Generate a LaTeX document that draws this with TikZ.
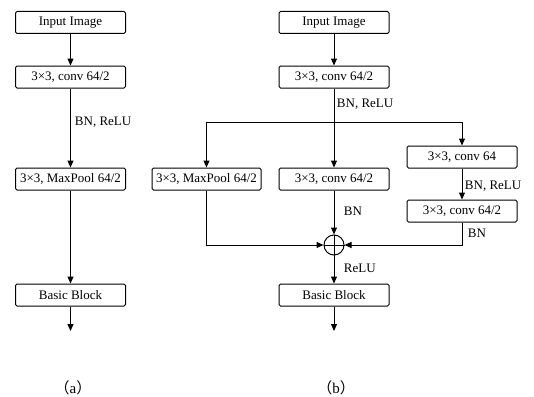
\documentclass[tikz,border=0pt]{standalone}
\usepackage{fontspec}
\setmainfont{Liberation Serif}
\newfontfamily\cjk{Noto Sans CJK SC}
\usetikzlibrary{arrows.meta}

\tikzset{
  blk/.style={draw, rounded corners=1.5pt, line width=1pt, minimum width=110pt, minimum height=22pt, inner sep=0pt, font=\fontsize{13}{15}\selectfont},
  arr/.style={line width=1pt, -{Triangle[length=7pt,width=6pt]}},
  lbl/.style={anchor=west, inner sep=0.75pt, font=\fontsize{13}{15}\selectfont},
  subcap/.style={inner sep=0.75pt, font=\fontsize{15}{17}\selectfont},
  sumnode/.style={draw, circle, line width=1pt, minimum size=20pt, inner sep=0pt}
}

\begin{document}
\begin{tikzpicture}[x=1pt,y=1pt,yscale=-1,xscale=1]
\useasboundingbox (0,0) rectangle (534,396);

% (a) plain stem
\node [blk] (inA) at (70.5,22.5) {Input Image};
\node [blk] (convA) at (70.5,77) {3×3, conv 64/2};
\node [blk] (poolA) at (70.5,179) {3×3, MaxPool 64/2};
\node [blk] (blockA) at (70.5,295) {Basic Block};
\coordinate (endA) at (70.5,331);

\draw [arr] (inA) -- (convA);
\draw [arr] (convA) -- (poolA);
\draw [arr] (poolA) -- (blockA);
\draw [arr] (blockA) -- (endA);

% Text Node
\node [lbl] (bnA) at (74,122) {BN, ReLU};
\node [subcap] (capA) at (73,388) {{\cjk （}a{\cjk ）}};

% (b) stem with three branches
\node [blk] (inB) at (334,22.5) {Input Image};
\node [blk] (convB) at (334,77) {3×3, conv 64/2};
\coordinate (split) at (334,122);
\node [blk, minimum width=109pt] (poolB) at (206.5,179) {3×3, MaxPool 64/2};
\node [blk] (convC) at (334,179) {3×3, conv 64/2};
\node [blk] (convD) at (462,157) {3×3, conv 64};
\node [blk] (convE) at (462,211) {3×3, conv 64/2};
\node [sumnode] (sum) at (334,245) {};
\draw [line width=1pt] (sum.north) -- (sum.south) (sum.west) -- (sum.east);
\node [blk] (blockB) at (334,295) {Basic Block};
\coordinate (endB) at (334,331);

\draw [arr] (inB) -- (convB);
\draw [arr] (convB) -- (convC);
\draw [arr] (split) -| (poolB.north);
\draw [arr] (split) -| (convD.north);
\draw [arr] (convD) -- (convE);
\draw [arr] (convC) -- (sum);
\draw [arr] (poolB.south) |- (sum.west);
\draw [arr] (convE.south) |- (sum.east);
\draw [arr] (sum) -- (blockB);
\draw [arr] (blockB) -- (endB);

% Text Node
\node [lbl] (bnB) at (336,104) {BN, ReLU};
\node [lbl] (bnD) at (464,186) {BN, ReLU};
\node [lbl] (bnC) at (343,211) {BN};
\node [lbl] (bnE) at (467,233) {BN};
\node [lbl] (reluB) at (343,268) {ReLU};
\node [subcap] (capB) at (336,388) {{\cjk （}b{\cjk ）}};

\end{tikzpicture}
\end{document}
